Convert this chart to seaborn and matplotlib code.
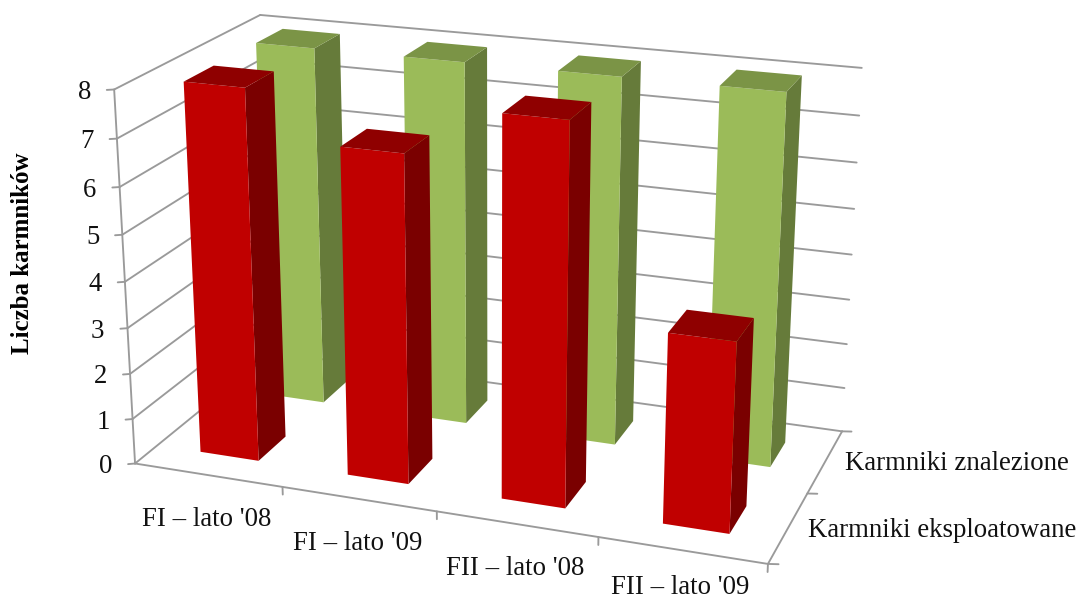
import numpy as np
import pandas as pd
import matplotlib
matplotlib.use('Agg')
import matplotlib.pyplot as plt
from matplotlib.colors import to_rgba
from mpl_toolkits.mplot3d import proj3d
import seaborn as sns

# Feeder counts per period and feeder type
periods = ["FI – lato '08", "FI – lato '09", "FII – lato '08", "FII – lato '09"]
series_names = ["Karmniki eksploatowane", "Karmniki znalezione"]
exploited = [8, 7, 8, 4]
found = [8, 8, 8, 8]
y_ticks = [0, 1, 2, 3, 4, 5, 6, 7, 8]
y_title = "Liczba karmników"

sns.set_theme(style="white")
plt.rcParams['font.family'] = ['Liberation Serif', 'DejaVu Serif']

W, H = 1079, 601
GRID = "#9A9A9A"
TEXT = "#111111"
FS = 19.3

data = pd.DataFrame({
    "period": periods * 2,
    "slot": list(range(4)) * 2,
    "row": [0] * 4 + [1] * 4,
    "count": exploited + found,
})
# bottom, top, -y, +y, -x, +x
face_colors = {
    0: ["#00000000", "#8F0000", "#C00000", "#00000000", "#00000000", "#7A0000"],
    1: ["#00000000", "#7B9446", "#9BBB59", "#00000000", "#00000000", "#667B3A"],
}

fig = plt.figure(figsize=(W / 100, H / 100), dpi=100)
L = 434.7
ax = fig.add_axes([271.0 / W, 109.8 / H, L / W, L / H], projection='3d', proj_type='persp',
                  computed_zorder=False)
ax.set_axis_off()
ax.patch.set_alpha(0)


def seg(a, b):
    ax.plot(*zip(a, b), color=GRID, lw=1.35, solid_capstyle='round', zorder=1, clip_on=False)


n_x, n_y, z_top = len(periods), len(series_names), max(y_ticks)

# Walls and floor edges
for z in y_ticks:
    seg((0, n_y, z), (n_x, n_y, z))
    seg((0, 0, z), (0, n_y, z))
    seg((0, 0, z), (-0.036, -0.023, z))
seg((0, 0, 0), (0, 0, z_top))
seg((0, 0, 0), (n_x, 0, 0))
seg((n_x, 0, 0), (n_x, n_y, 0))
for i in range(1, n_x + 1):
    seg((i, 0, 0), (i, 0, -0.17))
for j in range(n_y + 1):
    seg((n_x, j, 0), (n_x + 0.057, j + 0.017, 0))

# Bars: back row first so the front row overlaps it
GAP, BAR = 0.3, 0.4
for row, part in data.groupby("row", sort=True):
    rgba = [to_rgba(c) for c in face_colors[row]]
    for rec in part.itertuples():
        ax.bar3d(rec.slot + GAP, rec.row + GAP, 0, BAR, BAR, rec.count, color=rgba, shade=False,
                 linewidth=0, zorder=3 - row, clip_on=False)

ax.set_xlim(0, n_x)
ax.set_ylim(0, n_y)
ax.set_zlim(0, z_top)
ax.view_init(elev=19.5687, azim=-70.0309, roll=-0.009)
ax.set_box_aspect((1.6755, 0.8308, 1), zoom=np.exp(0.616))


def label(point, text, offset, ha):
    # Anchor the text on a projected axis position, shifted by a pixel offset
    u, v, _ = proj3d.proj_transform(*point, ax.get_proj())
    ax.annotate(text, xy=(u, v), xytext=offset, textcoords='offset pixels', ha=ha, va='center',
                fontsize=FS, color=TEXT, annotation_clip=False, zorder=5)


for z in y_ticks:
    label((0, 0, z), str(z), (-23, -3), 'right')
# The last period label sits against the lower edge of the figure
period_drop = [-44, -44, -44, -37.5]
for i, lab in enumerate(periods):
    label((i + 0.5, 0, 0), lab, (-1.5, period_drop[i]), 'center')
for j, lab in enumerate(series_names):
    label((n_x, j + 0.5, 0), lab, (19.5, -2.5), 'left')
fig.text(23 / W, 1 - 253 / H, y_title, rotation=90, ha='center', va='center', fontsize=18,
         fontweight='bold', color='#000000')

fig.savefig('out.png', dpi=100, facecolor='white')
